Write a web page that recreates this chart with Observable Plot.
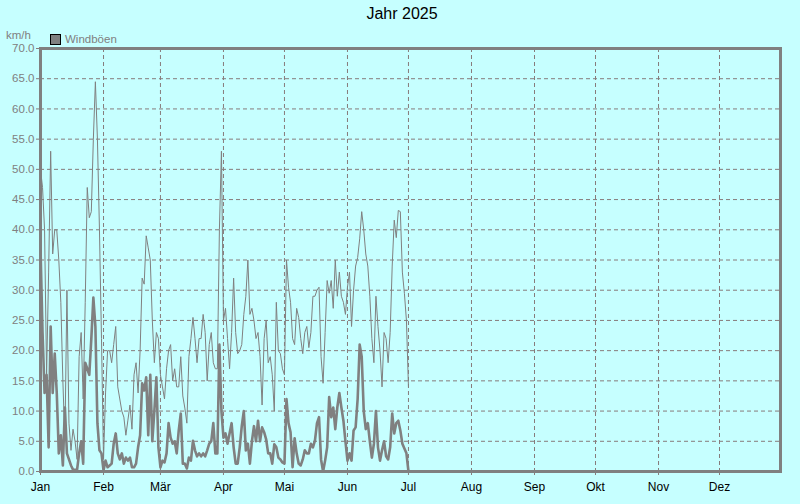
<!DOCTYPE html>
<html>
<head>
<meta charset="utf-8">
<script src="https://cdn.jsdelivr.net/npm/d3@7"></script>
<script src="https://cdn.jsdelivr.net/npm/@observablehq/plot@0.6"></script>
<style>
  html, body { margin: 0; padding: 0; background: #c6ffff; }
  #wrap { position: relative; width: 800px; height: 504px; overflow: hidden; font-family: "Liberation Sans", Arial, sans-serif; }
  #title { position: absolute; left: 402px; top: 5px; transform: translateX(-50%); font-size: 16px; color: #000; white-space: nowrap; }
  #unit { position: absolute; left: 6px; top: 29px; font-size: 11.5px; color: #808080; }
  #legend { position: absolute; left: 50px; top: 33px; display: flex; align-items: center; font-size: 11.5px; color: #808080; }
  #legend .sw { width: 9px; height: 9px; background: #808080; border: 1px solid #000; margin-right: 4px; }
  #chart { position: absolute; left: 0; top: 0; }
</style>
</head>
<body>
<div id="wrap">
  <div id="chart"></div>
  <div id="title">Jahr 2025</div>
  <div id="unit">km/h</div>
  <div id="legend"><div class="sw"></div><span>Windböen</span></div>
</div>
<script>
// ---- data (daily values from 1 Jan 2025) ----
const year = 2025;
const monthLabels = ["Jan","Feb","Mär","Apr","Mai","Jun","Jul","Aug","Sep","Okt","Nov","Dez"];
const yTickValues = [0,5,10,15,20,25,30,35,40,45,50,55,60,65,70];

// gusts (thin line), km/h
const gust = [
  50, 47, 40, 16, 33, 53, 36, 40, 40, 35, 28, 15, 5, 30, 8, 3.5, 7, 5, 2, 19, 23, 12, 28, 47, 42, 43, 55, 64.5, 55, 40, 22,
  2, 13, 20, 20, 18, 21, 24, 14, 12, 10, 9, 6, 8.5, 11, 7, 16, 18, 13, 20, 32, 31, 39, 37, 35, 25, 18, 23, 22, 16,
  14, 12, 17, 20, 21, 15, 17, 14, 14, 19, 12.5, 10.5, 8, 19, 22, 25.5, 22, 18, 22, 22, 26, 23, 15, 21, 23, 18, 17, 17, 40, 53, 25,
  27, 22, 17, 23, 32, 23, 19.5, 20, 21, 26, 29, 35, 26, 27, 25, 22, 23, 19, 11, 22, 25, 18, 19, 16, 10, 28, 20, 19.5, 17, 16,
  35, 30.5, 28, 22, 21, 27, 25.5, 22, 19.5, 23, 24, 20.5, 23, 29, 29, 30, 30.5, 19, 14.6, 23, 31.6, 29.5, 31.6, 27, 35, 29, 33, 29, 28, 26, 30.5,
  33, 24, 30, 34, 35.4, 38.5, 43, 40, 36, 34, 29, 22, 18, 29, 24, 20, 14, 23, 22, 18, 23, 34, 41.6, 38.7, 43.2, 43, 33, 29.5, 25, 14
];

// second (thick) line, km/h
const speed = [
  37, 23, 13, 16, 4, 24, 13, 19.5, 13, 3, 6, 1, 10.6, 3, 2, 1, 0.3, 0.3, 0.3, 3, 5, 1.3, 18, 17, 16, 22, 28.8, 24, 8, 3.5, 3,
  0.2, 1.8, 0.7, 1, 1.3, 4.6, 6.3, 3, 2, 3, 1.3, 2.3, 1.8, 2.3, 0.7, 0.7, 1.3, 4, 6, 14.6, 13.4, 15.6, 6, 16, 5, 10, 15.6, 4, 0.7,
  1.8, 1.5, 3, 8, 5.6, 4.6, 5, 3, 6.8, 9.6, 1.3, 1.3, 0.5, 2.3, 1.8, 5.1, 3.5, 2.5, 3, 2.5, 3, 2.5, 3.5, 4.6, 5, 8, 3, 3, 21, 10, 5.6,
  6.3, 4.6, 6.3, 8, 4, 1.3, 1.3, 4, 7.5, 10, 3.5, 4.6, 1.3, 5, 7.5, 5, 8.4, 5, 7.3, 6.5, 5.3, 3, 3, 1.3, 4.5, 4, 2.3, 2, 1.5, 1.3,
  12, 8, 6.5, 0.7, 5.5, 3, 1.3, 1, 2, 3.5, 3, 3, 4.6, 4, 5.1, 8, 9, 2, 0, 1.8, 4, 12.3, 9, 10.6, 7, 10.6, 13, 10.6, 8.4, 5, 1.8,
  3, 1.8, 6.8, 7.3, 12, 21, 19, 10, 7, 8, 5, 2.3, 4.6, 10, 4, 1.8, 3.5, 5, 2.5, 2, 4, 9.6, 6.3, 8, 8.4, 6.8, 4.6, 3.8, 3, 0
];

// ---- build table ----
const start = Date.UTC(year, 0, 1);
const rows = gust.map((g, i) => ({ date: new Date(start + i * 864e5), gust: g, speed: speed[i] }));
const monthTicks = monthLabels.map((_, i) => new Date(Date.UTC(year, i, 1)));

const gridColor = "#877b7b";
const lineColor = "#808080";

const chart = Plot.plot({
  width: 800,
  height: 504,
  marginTop: 48,
  marginLeft: 40,
  marginRight: 20,
  marginBottom: 33,
  style: { background: "transparent", fontFamily: "Liberation Sans, Arial, sans-serif", overflow: "visible" },
  x: { type: "utc", domain: [new Date(Date.UTC(year, 0, 1)), new Date(Date.UTC(year, 11, 31))] },
  y: { domain: [0, 70] },
  marks: [
    Plot.gridY(yTickValues, { stroke: gridColor, strokeOpacity: 1, strokeDasharray: "4,3" }),
    Plot.gridX(monthTicks, { stroke: gridColor, strokeOpacity: 1, strokeDasharray: "4,3" }),
    Plot.axisY(yTickValues, {
      tickSize: 4, tickPadding: 2, stroke: gridColor, fill: "#808080", fontSize: 11.5,
      tickFormat: d => d.toFixed(1), label: null
    }),
    Plot.axisX(monthTicks, {
      tickSize: 4, tickPadding: 7, stroke: gridColor, fill: "#000", fontSize: 12,
      tickFormat: d => monthLabels[d.getUTCMonth()], label: null
    }),
    Plot.line(rows, { x: "date", y: "gust", stroke: lineColor, strokeWidth: 1, strokeLinejoin: "miter", strokeMiterlimit: 1 }),
    Plot.line(rows, { x: "date", y: "speed", stroke: lineColor, strokeWidth: 2.6, strokeLinejoin: "round" }),
    Plot.frame({ stroke: lineColor, strokeWidth: 3 })
  ]
});
document.getElementById("chart").appendChild(chart);
</script>
</body>
</html>
